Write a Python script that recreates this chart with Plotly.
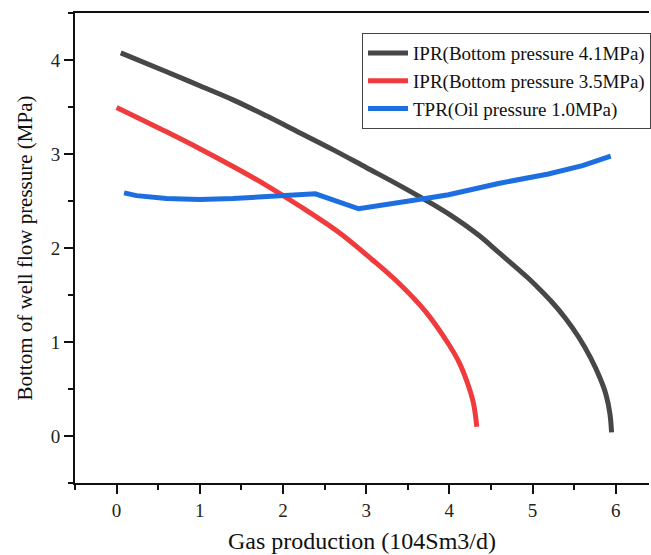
import plotly.graph_objects as go

# IPR curve, bottom pressure 4.1 MPa
ipr41_x = [0.05, 0.6, 1.0, 1.4, 1.8, 2.2, 2.6, 3.0, 3.4, 3.72, 4.0, 4.35, 4.6, 4.95, 5.1, 5.23, 5.4, 5.55, 5.7, 5.81, 5.88, 5.93, 5.95]
ipr41_y = [4.08, 3.88, 3.73, 3.58, 3.41, 3.23, 3.05, 2.86, 2.67, 2.51, 2.36, 2.14, 1.95, 1.68, 1.55, 1.43, 1.25, 1.06, 0.83, 0.62, 0.45, 0.24, 0.04]

# IPR curve, bottom pressure 3.5 MPa
ipr35_x = [0.0, 0.6, 1.0, 1.4, 1.8, 2.2, 2.67, 3.07, 3.39, 3.71, 3.99, 4.12, 4.22, 4.29, 4.33]
ipr35_y = [3.50, 3.24, 3.06, 2.87, 2.67, 2.45, 2.17, 1.88, 1.63, 1.33, 0.98, 0.78, 0.56, 0.35, 0.10]

# TPR curve, oil pressure 1.0 MPa
tpr_x = [0.09, 0.24, 0.6, 1.0, 1.4, 1.8, 2.04, 2.39, 2.91, 3.4, 3.71, 3.99, 4.59, 5.19, 5.6, 5.94]
tpr_y = [2.59, 2.56, 2.53, 2.52, 2.53, 2.55, 2.57, 2.58, 2.42, 2.48, 2.53, 2.57, 2.69, 2.79, 2.88, 2.98]

names = ["IPR(Bottom pressure 4.1MPa)", "IPR(Bottom pressure 3.5MPa)", "TPR(Oil pressure 1.0MPa)"]
colors = ["#474747", "#EF3B3D", "#1D6FE0"]

FONT = "Liberation Serif"

fig = go.Figure()
fig.add_trace(go.Scatter(x=ipr41_x, y=ipr41_y, mode="lines", name=names[0],
                         line=dict(color=colors[0], width=5, shape="spline", smoothing=1.0)))
fig.add_trace(go.Scatter(x=ipr35_x, y=ipr35_y, mode="lines", name=names[1],
                         line=dict(color=colors[1], width=5, shape="spline", smoothing=1.0)))
fig.add_trace(go.Scatter(x=tpr_x, y=tpr_y, mode="lines", name=names[2],
                         line=dict(color=colors[2], width=5)))

fig.update_layout(
    width=651, height=555,
    margin=dict(l=75, r=0, t=13, b=72),
    paper_bgcolor="white", plot_bgcolor="white",
    font=dict(family=FONT, size=18, color="#222222"),
    showlegend=True,
    legend=dict(x=0.5, y=0.957, xanchor="left", yanchor="top",
                bordercolor="#444444", borderwidth=1, bgcolor="white",
                font=dict(family=FONT, size=19, color="#111111"),
                tracegroupgap=0, itemwidth=40),
    xaxis=dict(
        range=[-0.5, 6.4], tickmode="linear", tick0=0, dtick=1,
        showgrid=False, zeroline=False,
        showline=True, linecolor="#111111", linewidth=2, mirror=True,
        ticks="outside", ticklen=9, tickwidth=2, tickcolor="#111111",
        minor=dict(dtick=0.5, ticks="outside", ticklen=5, tickwidth=2, tickcolor="#111111"),
        tickfont=dict(family=FONT, size=19, color="#222222"),
        title=dict(text="Gas production (104Sm3/d)", font=dict(family=FONT, size=24, color="#111111"), standoff=12),
    ),
    yaxis=dict(
        range=[-0.5, 4.505], tickmode="linear", tick0=0, dtick=1,
        showgrid=False, zeroline=False,
        showline=True, linecolor="#111111", linewidth=2, mirror=False,
        ticks="outside", ticklen=9, tickwidth=2, tickcolor="#111111",
        minor=dict(dtick=0.5, ticks="outside", ticklen=5, tickwidth=2, tickcolor="#111111"),
        tickfont=dict(family=FONT, size=19, color="#222222"),
        title=dict(text="Bottom of well flow pressure (MPa)", font=dict(family=FONT, size=21, color="#111111"), standoff=12),
    ),
)

fig.write_html("out.html")
